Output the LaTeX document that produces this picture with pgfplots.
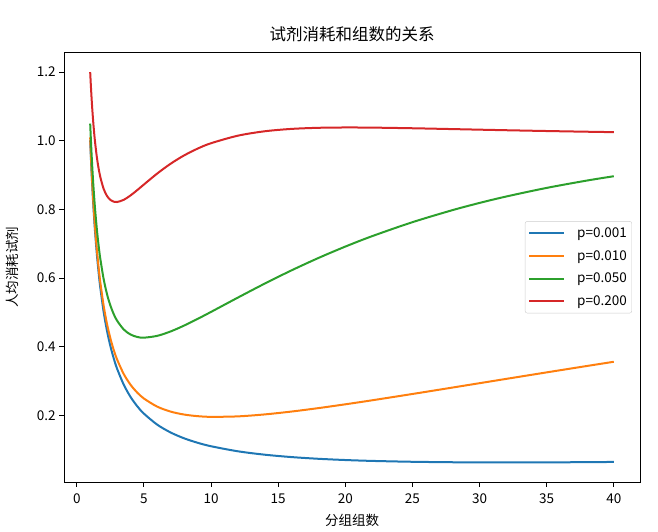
\documentclass[border=0pt]{standalone}
\usepackage{fontspec}
\setmainfont{Noto Sans CJK SC}
\usepackage{pgfplots}
\pgfplotsset{compat=1.18}
\usepackage{pgfplotstable}
\definecolor{tabblue}{HTML}{1F77B4}
\definecolor{taborange}{HTML}{FF7F0E}
\definecolor{tabgreen}{HTML}{2CA02C}
\definecolor{tabred}{HTML}{D62728}
\pgfplotstableread{
k a b c d
1 1.001 1.01 1.05 1.2
1.05 0.953431 0.962878 1.004815 1.161257
1.1 0.910191 0.920085 0.963951 1.126773
1.15 0.870715 0.881056 0.926847 1.095899
1.2 0.834533 0.845321 0.893030 1.068250
1.25 0.80125 0.812484 0.862104 1.043407
1.35 0.742091 0.754217 0.807645 1.000844
1.5 0.66817 0.681629 0.740722 0.951125
1.65 0.607711 0.622507 0.687213 0.914073
1.75 0.57318 0.588864 0.657281 0.894711
2 0.502 0.5199 0.5975 0.86
2.25 0.446692 0.466803 0.553443 0.839169
2.5 0.4025 0.424813 0.520352 0.827567
2.75 0.366382 0.390896 0.495196 0.822262
3 0.33633 0.363034 0.475958 0.821333
3.5 0.28921 0.320275 0.450048 0.827767
4 0.254 0.289404 0.435494 0.8404
4.5 0.22672 0.266441 0.428340 0.855865
5 0.205 0.24901 0.426219 0.87232
6 0.17267 0.225187 0.431575 0.904523
7 0.14986 0.210795 0.444520 0.933142
8 0.133 0.202255 0.46158 0.957228
9 0.12011 0.197594 0.480862 0.976893
10 0.10995 0.195618 0.501263 0.992626
12 0.09526 0.196948 0.542973 1.014614
14 0.08534 0.202683 0.583754 1.027449
16 0.07838 0.211042 0.622373 1.034353
18 0.07341 0.221042 0.658342 1.037542
20 0.06981 0.232093 0.691514 1.038471
22 0.06722 0.243824 0.721921 1.038076
25 0.06470 0.262179 0.762611 1.036222
28 0.06333 0.280995 0.797888 1.03378
30 0.06290 0.293633 0.818694 1.032095
32 0.06276 0.306270 0.837538 1.030458
35 0.06298 0.325123 0.862487 1.028165
38 0.06363 0.343762 0.883920 1.026108
40 0.06423 0.356029 0.896488 1.024867
}\datatable
\begin{document}
\begin{tikzpicture}
\begin{axis}[
  width=576bp, height=429.5bp, scale only axis,
  xmin=-0.95, xmax=41.95, ymin=0.0058, ymax=1.2569,
  xtick={0,5,...,40},
  ytick={0.2,0.4,0.6,0.8,1.0,1.2},
  yticklabel style={/pgf/number format/.cd,fixed,fixed zerofill,precision=1},
  /pgf/number format/assume math mode=true,
  tick align=outside,
  major tick length=4.9bp,
  tick style={black, line width=0.8pt},
  xtick pos=bottom, ytick pos=left,
  axis line style={line width=0.8pt},
  ticklabel style={font=\fontsize{13.5bp}{15bp}\selectfont},
  xticklabel style={yshift=-3bp},
  title={试剂消耗和组数的关系},
  title style={font=\fontsize{16.5bp}{18bp}\selectfont, yshift=1bp},
  xlabel={分组组数},
  ylabel={人均消耗试剂},
  label style={font=\fontsize{13.5bp}{15bp}\selectfont},
  xlabel style={yshift=-4bp},
  ylabel style={yshift=11bp},
  legend style={at={(0.986,0.5)}, anchor=east, draw=black!20, rounded corners=2bp,
    font=\fontsize{13.5bp}{15bp}\selectfont, inner xsep=3bp, inner ysep=4bp,
    row sep=7.5bp},
  legend cell align=left,
  legend image code/.code={\draw[#1] (0bp,0bp) -- (35bp,0bp); \path (45bp,0bp);},
]
\addplot[tabblue, line width=2bp, smooth, no marks] table[x=k,y=a]{\datatable};
\addlegendentry{p=0.001}
\addplot[taborange, line width=2bp, smooth, no marks] table[x=k,y=b]{\datatable};
\addlegendentry{p=0.010}
\addplot[tabgreen, line width=2bp, smooth, no marks] table[x=k,y=c]{\datatable};
\addlegendentry{p=0.050}
\addplot[tabred, line width=2bp, smooth, no marks] table[x=k,y=d]{\datatable};
\addlegendentry{p=0.200}
\end{axis}
\pgfresetboundingbox
\useasboundingbox ([xshift=-64bp,yshift=-50bp]current axis.south west) rectangle ([xshift=18bp,yshift=52.5bp]current axis.north east);
\end{tikzpicture}
\end{document}
